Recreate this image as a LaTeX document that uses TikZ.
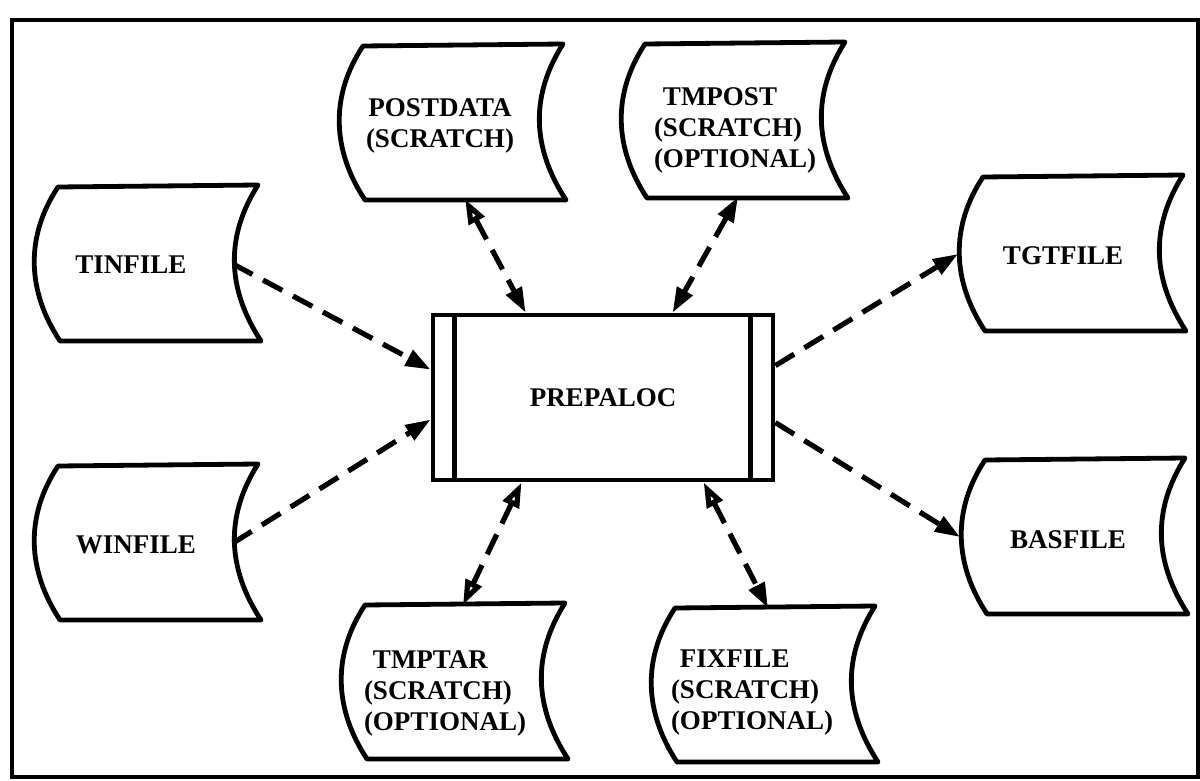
\documentclass[tikz,border=0pt]{standalone}
\usepackage{fontspec}
\setmainfont{Liberation Serif}
\usetikzlibrary{arrows.meta,calc}

\tikzset{
  fh/.tip={Triangle[length=12.5pt,width=8.5pt]},
  oh/.tip={Triangle[open,length=12.5pt,width=8.5pt]},
  tapeline/.style={line width=2.4pt, line join=round},
  lbl/.style={font=\fontsize{13.5}{15.5}\selectfont\bfseries, inner sep=0pt},
  flow/.style={line width=2.6pt, dash pattern=on 11pt off 6pt},
  % punched-tape file symbol, drawn from its top-left corner
  tape/.pic={
    \draw[tapeline] (0,0) -- (200,-2) .. controls (167,50) and (169,102) .. (203,154)
      -- (2,154) .. controls (-31,104) and (-33,50) .. cycle;
    \coordinate (-o) at (0,0);
    \coordinate (-w) at (-25,77);
    \coordinate (-e) at (175,77);
  }
}

\begin{document}
\begin{tikzpicture}[x=0.5pt,y=-0.5pt]
\useasboundingbox (0,0) rectangle (1200,781);
\fill[white] (0,0) rectangle (1200,781);

% outer frame
\draw[line width=1.7pt] (12,20) rectangle (1198,777);

% central program
\node[draw, line width=2.4pt, minimum width=170pt, minimum height=82.5pt,
      lbl] (prep) at (603,397.5) {PREPALOC};
\draw[line width=2.4pt] ($(prep.north west)+(24,0)$) -- ($(prep.south west)+(24,0)$);
\draw[line width=2.4pt] ($(prep.north east)+(-25,0)$) -- ($(prep.south east)+(-25,0)$);

% files
\pic (tin)  at (58,187)  {tape};
\pic (win)  at (58,466)  {tape};
\pic (post) at (363,46)  {tape};
\pic (tmp)  at (645,44)  {tape};
\pic (tgt)  at (983,177) {tape};
\pic (bas)  at (985,460) {tape};
\pic (tar)  at (365,605) {tape};
\pic (fix)  at (675,608) {tape};

\node[lbl] (tinL)  at (131,265) {TINFILE};
\node[lbl] (winL)  at (136,545) {WINFILE};
\node[lbl] (tgtL)  at (1063,256) {TGTFILE};
\node[lbl] (basL)  at (1068,540) {BASFILE};
\node[lbl, align=center] (postL) at (440,126) {POSTDATA\\(SCRATCH)};
\node[lbl, align=left] (tmpL) at (735,130) {\phantom{(}TMPOST\\(SCRATCH)\\(OPTIONAL)};
\node[lbl, align=left] (tarL) at (445,693) {\phantom{(}TMPTAR\\(SCRATCH)\\(OPTIONAL)};
\node[lbl, align=left] (fixL) at (752,692) {\phantom{(}FIXFILE\\(SCRATCH)\\(OPTIONAL)};

% attachment points on the program box
\coordinate (pw1) at ($(prep.north west)+(0,57)$);
\coordinate (pw2) at ($(prep.north west)+(0,107)$);
\coordinate (pe1) at ($(prep.north east)+(0,53)$);
\coordinate (pe2) at ($(prep.north east)+(0,110)$);
\coordinate (pn1) at ($(prep.north west)+(95,0)$);
\coordinate (pn2) at ($(prep.north west)+(242,0)$);
\coordinate (ps1) at ($(prep.south west)+(91,0)$);
\coordinate (ps2) at ($(prep.south west)+(273,0)$);

% attachment points on the files
\coordinate (postS) at ($(post-o)+(102,153)$);
\coordinate (tmpS)  at ($(tmp-o)+(93,153)$);
\coordinate (tarN)  at ($(tar-o)+(98,0)$);
\coordinate (fixN)  at ($(fix-o)+(93,0)$);

% data flows
\draw[flow, -fh] (tin-e) -- (pw1);
\draw[flow, -fh] (win-e) -- (pw2);
\draw[flow, -fh] (pe1) -- (tgt-w);
\draw[flow, -fh] (pe2) -- (bas-w);
\draw[flow, oh-fh] (postS) -- (pn1);
\draw[flow, fh-fh] (tmpS) -- (pn2);
\draw[flow, oh-oh] (ps1) -- (tarN);
\draw[flow, oh-fh] (ps2) -- (fixN);
\end{tikzpicture}
\end{document}
